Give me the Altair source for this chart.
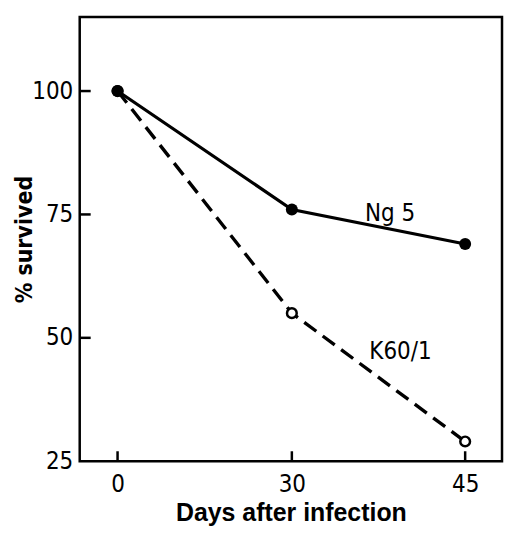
import altair as alt
import pandas as pd

# ---- data ----
days = [0, 30, 45]
ng5_survival = [100, 76, 69]
k60_survival = [100, 55, 29]
y_tick_values = [100, 75, 50, 25]
x_tick_values = [0, 30, 45]
label_texts = ["Ng 5", "K60/1"]
label_days = [38.5, 39.4]
label_values = [75.1, 47.1]

ng5 = pd.DataFrame({"day": days, "pct": ng5_survival})
k60 = pd.DataFrame({"day": days, "pct": k60_survival})
yt = pd.DataFrame({"pct": y_tick_values[:-1]})
xt = pd.DataFrame({"day": x_tick_values})
labels = pd.DataFrame({"day": label_days, "pct": label_values, "txt": label_texts})

W, H = 424, 446
xscale = alt.Scale(domain=[-6.5, 0, 30, 45, 48.2], range=[0, 38, 213, 387, W])
yscale = alt.Scale(domain=[25, 115], nice=False, zero=False)

xaxis = alt.Axis(
    title="Days after infection", values=x_tick_values, ticks=False, domain=False,
    grid=False, labelFont="DejaVu Sans Condensed", labelFontSize=24,
    labelColor="black", labelPadding=11, labelFlush=False, labelOverlap=False,
    titleFont="Liberation Sans", titleFontSize=25, titleFontWeight="bold",
    titleColor="black", titlePadding=5,
)
yaxis = alt.Axis(
    title="% survived", values=y_tick_values, ticks=False, domain=False,
    grid=False, labelFont="DejaVu Sans Condensed", labelFontSize=24,
    labelColor="black", labelPadding=7, labelFlush=False, labelOverlap=False,
    titleFont="DejaVu Sans Condensed", titleFontSize=23,
    titleFontWeight="bold", titleColor="black", titlePadding=0,
    titleBaseline="alphabetic",
)

X = alt.X("day:Q", scale=xscale, axis=xaxis)
Y = alt.Y("pct:Q", scale=yscale, axis=yaxis)

ng5_line = alt.Chart(ng5).mark_line(color="black", strokeWidth=3.2).encode(x=X, y=Y)
k60_line = alt.Chart(k60).mark_line(
    color="black", strokeWidth=3.4, strokeDash=[15, 8]
).encode(x=X, y=Y)
k60_pts = alt.Chart(k60).mark_point(
    shape="circle", filled=False, color="black", fill="white", fillOpacity=1,
    strokeWidth=2.5, size=95, opacity=1
).encode(x=X, y=Y)
ng5_pts = alt.Chart(ng5).mark_point(
    shape="circle", filled=True, color="black", size=145, opacity=1
).encode(x=X, y=Y)

ytick_rules = alt.Chart(yt).mark_rule(color="black", strokeWidth=2.5).encode(
    y=Y, x=alt.value(0), x2=alt.value(11)
)
xtick_rules = alt.Chart(xt).mark_rule(color="black", strokeWidth=2.5).encode(
    x=X, y=alt.value(H), y2=alt.value(H - 10)
)
label_text = alt.Chart(labels).mark_text(
    font="DejaVu Sans Condensed", fontSize=24, color="black",
    align="center", baseline="middle"
).encode(x=X, y=Y, text="txt:N")

chart = alt.layer(
    ytick_rules, xtick_rules, k60_line, ng5_line, k60_pts, ng5_pts, label_text
).properties(
    width=W, height=H,
    autosize=alt.AutoSizeParams(type="none"),
    padding={"left": 72, "top": 8, "right": 2, "bottom": 66},
    background="white",
).configure_view(stroke="black", strokeWidth=2.5)

chart.save("out.html", embed_options={"renderer": "svg", "actions": False})
